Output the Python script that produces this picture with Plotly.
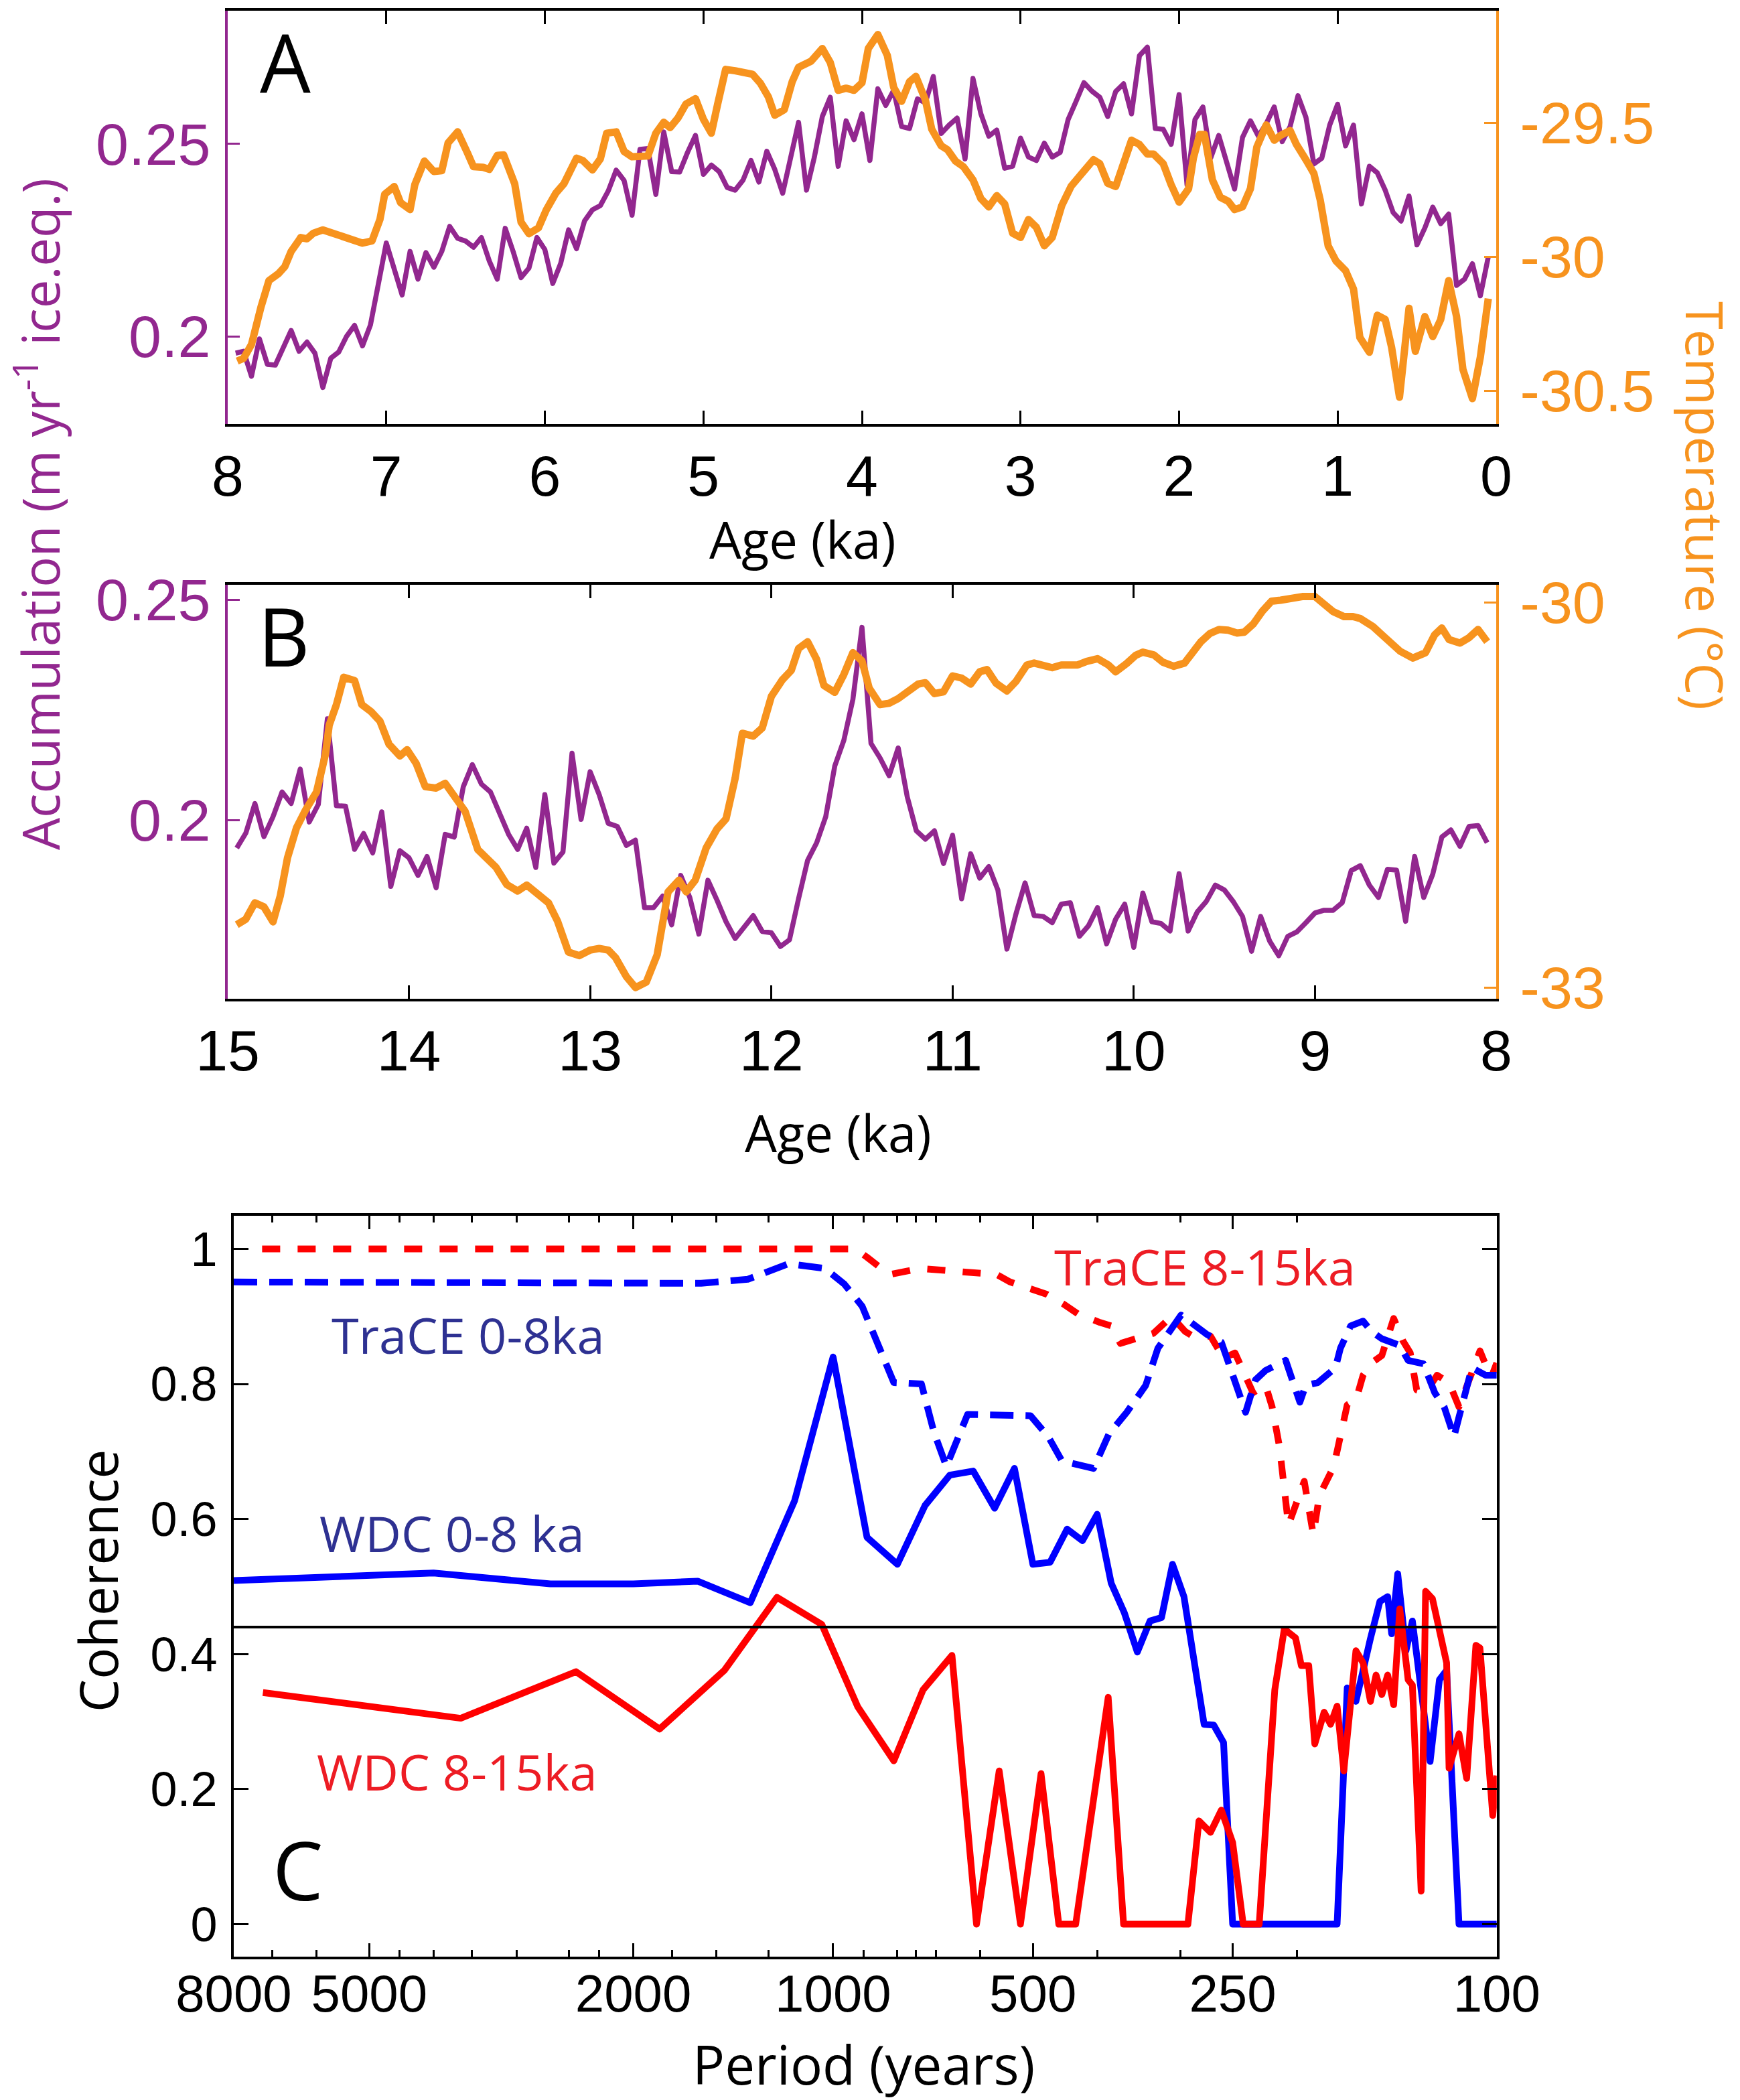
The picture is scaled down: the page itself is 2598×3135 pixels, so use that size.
import plotly.graph_objects as go
import math

# ---------------- Panel A (0-8 ka) ----------------
A_ACC_AGE = [7.95, 7.90, 7.85, 7.80, 7.75, 7.70, 7.60, 7.55, 7.50, 7.45, 7.40, 7.35, 7.30, 7.25, 7.20, 7.15, 7.10, 7.00,
             6.90, 6.85, 6.80, 6.75, 6.70, 6.65, 6.60, 6.55, 6.50, 6.45, 6.40, 6.35, 6.30, 6.25, 6.20, 6.15, 6.10, 6.05,
             6.00, 5.95, 5.90, 5.85, 5.80, 5.75, 5.70, 5.65, 5.60, 5.55, 5.50, 5.45, 5.40, 5.35, 5.30, 5.25, 5.20, 5.15,
             5.10, 5.05, 5.00, 4.95, 4.90, 4.85, 4.80, 4.75, 4.70, 4.65, 4.60, 4.55, 4.50, 4.45, 4.40, 4.35, 4.30, 4.25,
             4.20, 4.15, 4.10, 4.05, 4.00, 3.95, 3.90, 3.85, 3.80, 3.75, 3.70, 3.65, 3.60, 3.55, 3.50, 3.45, 3.40, 3.35,
             3.30, 3.25, 3.20, 3.15, 3.10, 3.05, 3.00, 2.95, 2.90, 2.85, 2.80, 2.75, 2.70, 2.65, 2.60, 2.55, 2.50, 2.45,
             2.40, 2.35, 2.30, 2.25, 2.20, 2.15, 2.10, 2.05, 2.00, 1.95, 1.90, 1.85, 1.80, 1.75, 1.70, 1.65, 1.60, 1.55,
             1.50, 1.45, 1.40, 1.35, 1.30, 1.25, 1.20, 1.15, 1.10, 1.05, 1.00, 0.95, 0.90, 0.85, 0.80, 0.75, 0.70, 0.65,
             0.60, 0.55, 0.50, 0.45, 0.40, 0.35, 0.30, 0.25, 0.20, 0.15, 0.10, 0.05]
A_ACC = [0.1957, 0.1962, 0.1897, 0.1994, 0.1928, 0.1926, 0.2016, 0.1962, 0.1986, 0.1957, 0.1868, 0.1944, 0.1960, 0.2001,
         0.2029, 0.1976, 0.2030, 0.2243, 0.2108, 0.2221, 0.2149, 0.2218, 0.2180, 0.2221, 0.2286, 0.2255, 0.2248, 0.2232,
         0.2257, 0.2196, 0.2149, 0.2281, 0.2221, 0.2153, 0.2178, 0.2257, 0.2226, 0.2138, 0.2190, 0.2277, 0.2228, 0.2300,
         0.2329, 0.2340, 0.2378, 0.2432, 0.2405, 0.2315, 0.2486, 0.2488, 0.2369, 0.2531, 0.2428, 0.2427, 0.2478, 0.2522,
         0.2421, 0.2445, 0.2428, 0.2387, 0.2380, 0.2406, 0.2457, 0.2401, 0.2481, 0.2434, 0.2372, 0.2459, 0.2556, 0.2380,
         0.2466, 0.2571, 0.2621, 0.2442, 0.2560, 0.2511, 0.2578, 0.2457, 0.2643, 0.2600, 0.2639, 0.2545, 0.2540, 0.2617,
         0.2607, 0.2675, 0.2527, 0.2549, 0.2567, 0.2461, 0.2670, 0.2578, 0.2520, 0.2536, 0.2437, 0.2442, 0.2515, 0.2466,
         0.2457, 0.2502, 0.2466, 0.2478, 0.2563, 0.2610, 0.2659, 0.2637, 0.2621, 0.2571, 0.2636, 0.2656, 0.2578, 0.2729,
         0.2751, 0.2540, 0.2538, 0.2499, 0.2628, 0.2394, 0.2563, 0.2596, 0.2464, 0.2522, 0.2448, 0.2383, 0.2517, 0.2560,
         0.2520, 0.2553, 0.2596, 0.2506, 0.2545, 0.2625, 0.2569, 0.2448, 0.2463, 0.2549, 0.2603, 0.2495, 0.2549, 0.2344,
         0.2442, 0.2425, 0.2380, 0.2322, 0.2300, 0.2365, 0.2238, 0.2282, 0.2336, 0.2293, 0.2318, 0.2133, 0.2149, 0.2189,
         0.2106, 0.2207]

A_TEMP_AGE = [7.94, 7.90, 7.85, 7.82, 7.79, 7.74, 7.68, 7.64, 7.60, 7.55, 7.54, 7.50, 7.46, 7.40, 7.35, 7.31, 7.25, 7.20,
              7.15, 7.09, 7.04, 7.01, 6.95, 6.91, 6.85, 6.82, 6.76, 6.70, 6.65, 6.61, 6.55, 6.49, 6.45, 6.39, 6.35, 6.30,
              6.26, 6.19, 6.15, 6.10, 6.04, 5.99, 5.93, 5.88, 5.80, 5.76, 5.70, 5.65, 5.61, 5.55, 5.50, 5.45, 5.39, 5.35,
              5.30, 5.25, 5.21, 5.16, 5.11, 5.05, 5.00, 4.95, 4.91, 4.86, 4.80, 4.75, 4.69, 4.64, 4.59, 4.55, 4.49, 4.44,
              4.40, 4.32, 4.25, 4.20, 4.15, 4.10, 4.05, 4.00, 3.96, 3.90, 3.84, 3.80, 3.75, 3.70, 3.66, 3.60, 3.56, 3.50,
              3.46, 3.41, 3.36, 3.30, 3.25, 3.20, 3.15, 3.10, 3.05, 3.00, 2.95, 2.90, 2.85, 2.80, 2.74, 2.68, 2.64, 2.59,
              2.54, 2.50, 2.45, 2.40, 2.35, 2.30, 2.25, 2.20, 2.16, 2.10, 2.05, 2.00, 1.94, 1.91, 1.87, 1.84, 1.79, 1.74,
              1.69, 1.65, 1.60, 1.55, 1.51, 1.45, 1.40, 1.36, 1.30, 1.26, 1.20, 1.15, 1.11, 1.06, 1.01, 0.95, 0.90, 0.86,
              0.80, 0.75, 0.70, 0.66, 0.61, 0.55, 0.51, 0.45, 0.40, 0.35, 0.30, 0.25, 0.21, 0.15, 0.10, 0.05]
A_TEMP = [-30.389, -30.379, -30.327, -30.254, -30.187, -30.089, -30.063, -30.037, -29.980, -29.938, -29.928, -29.933,
          -29.912, -29.900, -29.910, -29.912, -29.928, -29.938, -29.949, -29.941, -29.861, -29.767, -29.738, -29.798,
          -29.824, -29.731, -29.643, -29.682, -29.679, -29.575, -29.534, -29.610, -29.664, -29.666, -29.674, -29.622,
          -29.620, -29.728, -29.871, -29.914, -29.892, -29.824, -29.762, -29.728, -29.632, -29.641, -29.676, -29.635,
          -29.539, -29.534, -29.607, -29.627, -29.627, -29.624, -29.539, -29.498, -29.518, -29.482, -29.430, -29.410,
          -29.487, -29.539, -29.430, -29.301, -29.306, -29.309, -29.319, -29.353, -29.404, -29.472, -29.451, -29.347,
          -29.293, -29.270, -29.223, -29.275, -29.379, -29.371, -29.379, -29.351, -29.223, -29.171, -29.249, -29.368,
          -29.420, -29.347, -29.327, -29.415, -29.524, -29.586, -29.601, -29.643, -29.664, -29.713, -29.783, -29.814,
          -29.772, -29.803, -29.912, -29.928, -29.861, -29.890, -29.959, -29.928, -29.809, -29.736, -29.705, -29.674,
          -29.638, -29.653, -29.726, -29.738, -29.643, -29.565, -29.581, -29.617, -29.617, -29.653, -29.731, -29.796,
          -29.746, -29.632, -29.544, -29.544, -29.713, -29.778, -29.793, -29.824, -29.814, -29.746, -29.591, -29.508,
          -29.565, -29.547, -29.529, -29.581, -29.638, -29.689, -29.788, -29.959, -30.016, -30.052, -30.120, -30.301,
          -30.356, -30.218, -30.234, -30.337, -30.524, -30.192, -30.353, -30.223, -30.298, -30.234, -30.089, -30.223,
          -30.420, -30.529, -30.374, -30.156]

# ---------------- Panel B (8-15 ka) ----------------
B_ACC_AGE = [14.95, 14.90, 14.85, 14.80, 14.75, 14.70, 14.65, 14.60, 14.55, 14.50, 14.45, 14.40, 14.35, 14.30, 14.25,
             14.20, 14.15, 14.10, 14.05, 14.00, 13.95, 13.90, 13.85, 13.80, 13.75, 13.70, 13.65, 13.60, 13.55, 13.50,
             13.45, 13.40, 13.35, 13.30, 13.25, 13.20, 13.15, 13.10, 13.05, 13.00, 12.95, 12.90, 12.85, 12.80, 12.75,
             12.70, 12.65, 12.60, 12.55, 12.50, 12.45, 12.40, 12.35, 12.30, 12.25, 12.20, 12.15, 12.10, 12.05, 12.00,
             11.95, 11.90, 11.85, 11.80, 11.75, 11.70, 11.65, 11.60, 11.55, 11.50, 11.45, 11.40, 11.35, 11.30, 11.25,
             11.20, 11.15, 11.10, 11.05, 11.00, 10.95, 10.90, 10.85, 10.80, 10.75, 10.70, 10.65, 10.60, 10.55, 10.50,
             10.45, 10.40, 10.35, 10.30, 10.25, 10.20, 10.15, 10.10, 10.05, 10.00, 9.95, 9.90, 9.85, 9.80, 9.75, 9.70,
             9.65, 9.60, 9.55, 9.50, 9.45, 9.40, 9.35, 9.30, 9.25, 9.20, 9.15, 9.10, 9.05, 9.00, 8.95, 8.90, 8.85, 8.80,
             8.75, 8.70, 8.65, 8.60, 8.55, 8.50, 8.45, 8.40, 8.35, 8.30, 8.25, 8.20, 8.15, 8.10, 8.05]
B_ACC = [0.1937, 0.1971, 0.2038, 0.1963, 0.2008, 0.2064, 0.2038, 0.2116, 0.1996, 0.2036, 0.2230, 0.2033, 0.2032, 0.1934,
         0.1970, 0.1926, 0.2019, 0.1850, 0.1931, 0.1915, 0.1875, 0.1918, 0.1847, 0.1968, 0.1962, 0.2076, 0.2126, 0.2082,
         0.2064, 0.2017, 0.1968, 0.1934, 0.1982, 0.1893, 0.2058, 0.1903, 0.1928, 0.2152, 0.2002, 0.2110, 0.2058, 0.1993,
         0.1986, 0.1943, 0.1955, 0.1802, 0.1802, 0.1828, 0.1763, 0.1875, 0.1825, 0.1742, 0.1864, 0.1819, 0.1770, 0.1732,
         0.1757, 0.1784, 0.1748, 0.1745, 0.1714, 0.1729, 0.1822, 0.1909, 0.1949, 0.2008, 0.2123, 0.2181, 0.2274, 0.2437,
         0.2174, 0.2141, 0.2101, 0.2164, 0.2053, 0.1976, 0.1957, 0.1976, 0.1902, 0.1966, 0.1822, 0.1924, 0.1869, 0.1895,
         0.1842, 0.1708, 0.1788, 0.1858, 0.1784, 0.1782, 0.1768, 0.1810, 0.1813, 0.1737, 0.1761, 0.1802, 0.1720, 0.1776,
         0.1810, 0.1712, 0.1835, 0.1770, 0.1766, 0.1749, 0.1879, 0.1749, 0.1792, 0.1816, 0.1853, 0.1842, 0.1815, 0.1782,
         0.1703, 0.1782, 0.1726, 0.1693, 0.1737, 0.1747, 0.1768, 0.1790, 0.1796, 0.1796, 0.1813, 0.1886, 0.1897, 0.1853,
         0.1825, 0.1889, 0.1887, 0.1771, 0.1918, 0.1825, 0.1878, 0.1962, 0.1978, 0.1941, 0.1986, 0.1988, 0.1949]

B_TEMP_AGE = [14.95, 14.90, 14.85, 14.80, 14.75, 14.71, 14.67, 14.62, 14.57, 14.51, 14.46, 14.44, 14.40, 14.36, 14.30,
              14.26, 14.21, 14.16, 14.11, 14.05, 14.01, 13.96, 13.91, 13.85, 13.80, 13.74, 13.69, 13.62, 13.52, 13.46,
              13.40, 13.35, 13.29, 13.23, 13.18, 13.12, 13.06, 13.00, 12.95, 12.90, 12.86, 12.80, 12.75, 12.69, 12.63,
              12.57, 12.51, 12.47, 12.42, 12.36, 12.30, 12.25, 12.20, 12.16, 12.10, 12.05, 12.00, 11.94, 11.89, 11.85,
              11.80, 11.75, 11.71, 11.65, 11.60, 11.55, 11.50, 11.46, 11.40, 11.35, 11.30, 11.24, 11.19, 11.15, 11.10,
              11.05, 11.00, 10.95, 10.90, 10.85, 10.81, 10.76, 10.70, 10.65, 10.59, 10.55, 10.50, 10.45, 10.40, 10.31,
              10.26, 10.20, 10.14, 10.10, 10.04, 9.99, 9.95, 9.89, 9.84, 9.78, 9.72, 9.69, 9.63, 9.58, 9.53, 9.48, 9.43,
              9.39, 9.34, 9.29, 9.24, 9.19, 9.13, 9.07, 9.00, 8.95, 8.90, 8.84, 8.79, 8.75, 8.68, 8.63, 8.58, 8.53, 8.46,
              8.39, 8.34, 8.30, 8.26, 8.20, 8.15, 8.10, 8.05]
B_TEMP = [-32.510, -32.467, -32.339, -32.371, -32.488, -32.286, -31.988, -31.753, -31.615, -31.476, -31.178, -30.955,
          -30.795, -30.582, -30.607, -30.795, -30.848, -30.923, -31.104, -31.195, -31.146, -31.253, -31.434, -31.445,
          -31.408, -31.540, -31.626, -31.924, -32.062, -32.197, -32.248, -32.201, -32.265, -32.339, -32.482, -32.723,
          -32.751, -32.708, -32.695, -32.708, -32.766, -32.915, -33.000, -32.957, -32.744, -32.254, -32.163, -32.254,
          -32.163, -31.913, -31.764, -31.685, -31.370, -31.018, -31.040, -30.976, -30.731, -30.603, -30.528, -30.358,
          -30.305, -30.443, -30.646, -30.699, -30.560, -30.390, -30.454, -30.667, -30.795, -30.784, -30.748, -30.684,
          -30.635, -30.624, -30.709, -30.695, -30.571, -30.588, -30.635, -30.539, -30.522, -30.628, -30.688, -30.614,
          -30.486, -30.471, -30.496, -30.507, -30.486, -30.486, -30.458, -30.437, -30.486, -30.539, -30.475, -30.411,
          -30.386, -30.407, -30.464, -30.496, -30.471, -30.411, -30.305, -30.241, -30.209, -30.215, -30.237, -30.230,
          -30.166, -30.066, -29.989, -29.981, -29.964, -29.953, -29.953, -30.006, -30.070, -30.109, -30.109, -30.124,
          -30.187, -30.251, -30.322, -30.379, -30.432, -30.390, -30.251, -30.198, -30.288, -30.315, -30.273, -30.209,
          -30.305]

# ---------------- Panel C (coherence vs period) ----------------
WDC08_PERIOD = [8000, 4000, 2667, 2000, 1600, 1333, 1143, 1000, 889, 800, 727, 667, 615, 571, 533, 500, 471, 444, 421,
                400, 381, 364, 348, 333, 320, 308, 296, 276, 267, 258, 250, 174, 168, 163, 155, 150, 146, 144, 141, 137,
                134, 126, 122, 119, 114, 100]
WDC08_COH = [0.509, 0.520, 0.504, 0.504, 0.508, 0.476, 0.627, 0.840, 0.573, 0.533, 0.620, 0.665, 0.671, 0.616, 0.675,
             0.533, 0.536, 0.585, 0.568, 0.607, 0.505, 0.461, 0.403, 0.449, 0.454, 0.533, 0.485, 0.296, 0.295, 0.269,
             0.0, 0.0, 0.35, 0.33, 0.423, 0.478, 0.485, 0.43, 0.519, 0.405, 0.449, 0.241, 0.362, 0.376, 0.0, 0.0]

WDC815_PERIOD = [7230, 3640, 2440, 1826, 1458, 1215, 1040, 918, 810, 732, 662, 608, 562, 522, 486, 457, 431, 385, 365,
                 292, 281, 270, 260, 250, 241, 228, 216, 209, 201, 197, 192, 188, 182, 178, 174, 170, 163, 159, 155, 152,
                 149, 146, 143, 140, 136, 134, 130, 128, 125, 122, 119, 118, 114, 111, 107.5, 106, 103.5, 101.4, 100]
WDC815_COH = [0.343, 0.305, 0.374, 0.289, 0.376, 0.484, 0.444, 0.322, 0.242, 0.347, 0.398, 0.0, 0.227, 0.0, 0.223, 0.0,
              0.0, 0.336, 0.0, 0.0, 0.153, 0.136, 0.169, 0.121, 0.0, 0.0, 0.347, 0.437, 0.424, 0.383, 0.383, 0.267,
              0.314, 0.296, 0.323, 0.227, 0.405, 0.387, 0.330, 0.369, 0.340, 0.369, 0.325, 0.467, 0.362, 0.354, 0.049,
              0.493, 0.482, 0.438, 0.387, 0.231, 0.282, 0.216, 0.413, 0.409, 0.285, 0.161, 0.220]

TRACE08_PERIOD = [8000, 3681, 2034, 1581, 1344, 1167, 1029, 962, 904, 856, 810, 736, 705, 675, 627, 504, 474, 452, 405,
                  384, 361, 338, 324, 299, 273, 260, 248, 239, 231, 223, 208, 198, 194, 186, 175, 172, 166, 159, 154.5,
                  149, 140, 136, 129, 124, 120, 116, 114, 109, 104, 100]
TRACE08_COH = [0.951, 0.951, 0.949, 0.949, 0.955, 0.978, 0.971, 0.948, 0.915, 0.860, 0.802, 0.800, 0.729, 0.678, 0.755,
               0.753, 0.722, 0.686, 0.675, 0.726, 0.758, 0.798, 0.853, 0.902, 0.873, 0.862, 0.802, 0.758, 0.806, 0.820,
               0.835, 0.773, 0.798, 0.802, 0.824, 0.853, 0.886, 0.893, 0.878, 0.867, 0.857, 0.835, 0.830, 0.787, 0.766,
               0.722, 0.751, 0.824, 0.813, 0.813]

TRACE815_PERIOD = [7250, 2034, 1029, 925, 890, 823, 738, 612, 567, 541, 500, 477, 449, 428, 396, 381, 369, 329, 309, 295,
                   283, 270, 258, 248, 233, 223, 218, 212.5, 206, 200, 195, 189, 185, 176, 172, 168, 163, 159, 154.5,
                   149, 143, 138.5, 135, 132, 128, 123, 118, 114, 109, 106, 102, 100]
TRACE815_COH = [1.0, 1.0, 1.0, 1.0, 0.988, 0.962, 0.971, 0.966, 0.962, 0.951, 0.940, 0.933, 0.918, 0.904, 0.891, 0.886,
                0.860, 0.875, 0.900, 0.878, 0.867, 0.871, 0.838, 0.846, 0.787, 0.798, 0.766, 0.707, 0.591, 0.627, 0.656,
                0.577, 0.635, 0.678, 0.722, 0.769, 0.776, 0.813, 0.831, 0.842, 0.897, 0.864, 0.846, 0.791, 0.787, 0.813,
                0.802, 0.766, 0.817, 0.849, 0.809, 0.831]

SIG_LEVEL = 0.44

AGE_TICKS_A = [8, 7, 6, 5, 4, 3, 2, 1, 0]
AGE_TICKS_B = [15, 14, 13, 12, 11, 10, 9, 8]
ACC_TICKS = [0.2, 0.25]
ACC_TICKTEXT = ["0.2", "0.25"]
TEMP_TICKS_A = [-30.5, -30, -29.5]
TEMP_TICKTEXT_A = ["-30.5", "-30", "-29.5"]
TEMP_TICKS_B = [-33, -30]
TEMP_TICKTEXT_B = ["-33", "-30"]
COH_TICKS = [0, 0.2, 0.4, 0.6, 0.8, 1]
COH_TICKTEXT = ["0", "0.2", "0.4", "0.6", "0.8", "1"]
PERIOD_TICKS = [8000, 5000, 2000, 1000, 500, 250, 100]
PERIOD_TICKTEXT = ["8000", "5000", "2000", "1000", "500", "250", "100"]
PERIOD_MINOR = [7000, 6000, 4500, 4000, 3500, 3000, 2500, 2250, 1750, 1500, 1250, 900, 800, 750, 700, 600, 400, 300, 200]

# ---------------- styling ----------------
W, H = 2598, 3135
PURPLE = "#92278F"
ORANGE = "#F7931E"
BLUE = "#0000FF"
RED = "#FF0000"
LBLUE = "#2E3192"
LRED = "#ED1C24"
TICKFONT = "Liberation Sans, Arial, sans-serif"
LABELFONT = "Open Sans, Noto Sans, sans-serif"

def px(x):
    return x / W

def py(y):
    return 1 - y / H

XDOM_AB = [px(340), px(2234)]
YDOM_A = [py(633), py(16)]
YDOM_B = [py(1490.6), py(873)]
XDOM_C = [px(349), px(2234.8)]
YDOM_C = [py(2921), py(1815)]

fig = go.Figure()
fig.add_trace(go.Scatter(x=A_ACC_AGE, y=A_ACC, xaxis="x", yaxis="y", mode="lines",
                         line=dict(color=PURPLE, width=7.5)))
fig.add_trace(go.Scatter(x=A_TEMP_AGE, y=A_TEMP, xaxis="x", yaxis="y2", mode="lines",
                         line=dict(color=ORANGE, width=11)))
fig.add_trace(go.Scatter(x=B_ACC_AGE, y=B_ACC, xaxis="x2", yaxis="y3", mode="lines",
                         line=dict(color=PURPLE, width=7.5)))
fig.add_trace(go.Scatter(x=B_TEMP_AGE, y=B_TEMP, xaxis="x2", yaxis="y4", mode="lines",
                         line=dict(color=ORANGE, width=11)))
fig.add_trace(go.Scatter(x=TRACE815_PERIOD, y=TRACE815_COH, xaxis="x3", yaxis="y5", mode="lines",
                         line=dict(color=RED, width=10, dash="27px,26px")))
fig.add_trace(go.Scatter(x=TRACE08_PERIOD, y=TRACE08_COH, xaxis="x3", yaxis="y5", mode="lines",
                         line=dict(color=BLUE, width=10, dash="35px,18px")))
fig.add_trace(go.Scatter(x=WDC08_PERIOD, y=WDC08_COH, xaxis="x3", yaxis="y5", mode="lines",
                         line=dict(color=BLUE, width=10)))
fig.add_trace(go.Scatter(x=WDC815_PERIOD, y=WDC815_COH, xaxis="x3", yaxis="y5", mode="lines",
                         line=dict(color=RED, width=10)))

def age_axis(dom, anchor, rng, ticks):
    return dict(domain=dom, anchor=anchor, range=rng, autorange=False, automargin=False,
                tickmode="array", tickvals=ticks, ticktext=[str(t) for t in ticks],
                ticks="inside", ticklen=20, tickwidth=3, tickcolor="black",
                showline=True, linecolor="black", linewidth=4, mirror="ticks",
                showgrid=False, zeroline=False,
                tickfont=dict(family=TICKFONT, size=86, color="black"),
                ticklabelstandoff=0)

def side_axis(dom, anchor, rng, tv, tt, color, side, standoff, overlay=None):
    d = dict(domain=dom, anchor=anchor, range=rng, autorange=False, side=side, automargin=False,
             tickmode="array", tickvals=tv, ticktext=tt,
             ticks="inside", ticklen=18, tickwidth=3, tickcolor=color,
             showline=True, linecolor=color, linewidth=4, mirror=False,
             showgrid=False, zeroline=False,
             tickfont=dict(family=TICKFONT, size=88, color=color),
             ticklabelstandoff=standoff)
    if overlay:
        d["overlaying"] = overlay
    return d

layout = dict(
    template="none",
    width=W, height=H, autosize=False,
    margin=dict(l=0, r=0, t=0, b=0, pad=0),
    paper_bgcolor="white", plot_bgcolor="rgba(0,0,0,0)",
    showlegend=False,
    xaxis=age_axis(XDOM_AB, "y", [8, 0], AGE_TICKS_A),
    yaxis=side_axis(YDOM_A, "x", [0.17732, 0.28456], ACC_TICKS, ACC_TICKTEXT, PURPLE, "left", 4),
    yaxis2=side_axis(YDOM_A, "x", [-30.624, -29.082], TEMP_TICKS_A, TEMP_TICKTEXT_A, ORANGE, "right", 14, "y"),
    xaxis2=age_axis(XDOM_AB, "y3", [15, 8], AGE_TICKS_B),
    yaxis3=side_axis(YDOM_B, "x2", [0.15961, 0.25336], ACC_TICKS, ACC_TICKTEXT, PURPLE, "left", 4),
    yaxis4=side_axis(YDOM_B, "x2", [-33.085, -29.861], TEMP_TICKS_B, TEMP_TICKTEXT_B, ORANGE, "right", 14, "y3"),
    xaxis3=dict(domain=XDOM_C, anchor="y5", type="log", range=[math.log10(8000), 2], autorange=False,
                automargin=False,
                tickmode="array", tickvals=PERIOD_TICKS, ticktext=PERIOD_TICKTEXT,
                ticks="inside", ticklen=20, tickwidth=3, tickcolor="black",
                minor=dict(tickmode="array", tickvals=PERIOD_MINOR, ticks="inside", ticklen=10,
                           tickwidth=3, tickcolor="black", showgrid=False),
                showline=True, linecolor="black", linewidth=4, mirror="ticks",
                showgrid=False, zeroline=False,
                tickfont=dict(family=TICKFONT, size=78, color="black"),
                ticklabelstandoff=-16),
    yaxis5=dict(domain=YDOM_C, anchor="x3", range=[-0.048, 1.049], autorange=False, automargin=False,
                tickmode="array", tickvals=COH_TICKS, ticktext=COH_TICKTEXT,
                ticks="inside", ticklen=22, tickwidth=3, tickcolor="black",
                showline=True, linecolor="black", linewidth=4, mirror="ticks",
                showgrid=False, zeroline=False,
                tickfont=dict(family=TICKFONT, size=72, color="black"),
                ticklabelstandoff=6),
    shapes=[dict(type="line", xref="x3 domain", x0=0, x1=1, yref="y5", y0=SIG_LEVEL, y1=SIG_LEVEL,
                 line=dict(color="black", width=4), layer="above")],
)

def ann(text, x, y, size, color, angle=0, family=LABELFONT):
    return dict(text=text, x=px(x), y=py(y), xref="paper", yref="paper", showarrow=False,
                xanchor="center", yanchor="middle", textangle=angle,
                font=dict(family=family, size=size, color=color))

layout["annotations"] = [
    ann("A", 426, 92, 120, "black"),
    ann("B", 424, 948, 120, "black"),
    ann("C", 445, 2790, 120, "black"),
    ann("Age (ka)", 1198, 804, 76, "black"),
    ann("Age (ka)", 1251, 1690, 76, "black"),
    ann("Period (years)", 1289, 3080, 80, "black"),
    ann("Coherence", 146, 2360, 78, "black", -90),
    ann("Accumulation (m yr<sup>-1</sup> ice.eq.)", 55, 768, 76, PURPLE, -90),
    ann("Temperature (°C)", 2546, 755, 76, ORANGE, 90),
    ann("TraCE 0-8ka", 699, 1992, 74, LBLUE),
    ann("WDC 0-8 ka", 675, 2288, 74, LBLUE),
    ann("WDC 8-15ka", 683, 2644, 74, LRED),
    ann("TraCE 8-15ka", 1799, 1890, 74, LRED),
]

fig.update_layout(layout)

post = ("document.body.style.margin='0';"
        "document.querySelectorAll('.js-line').forEach(function(p){p.style.strokeLinejoin='round';});")
fig.write_html("out.html", post_script=post, config={"displayModeBar": False})
